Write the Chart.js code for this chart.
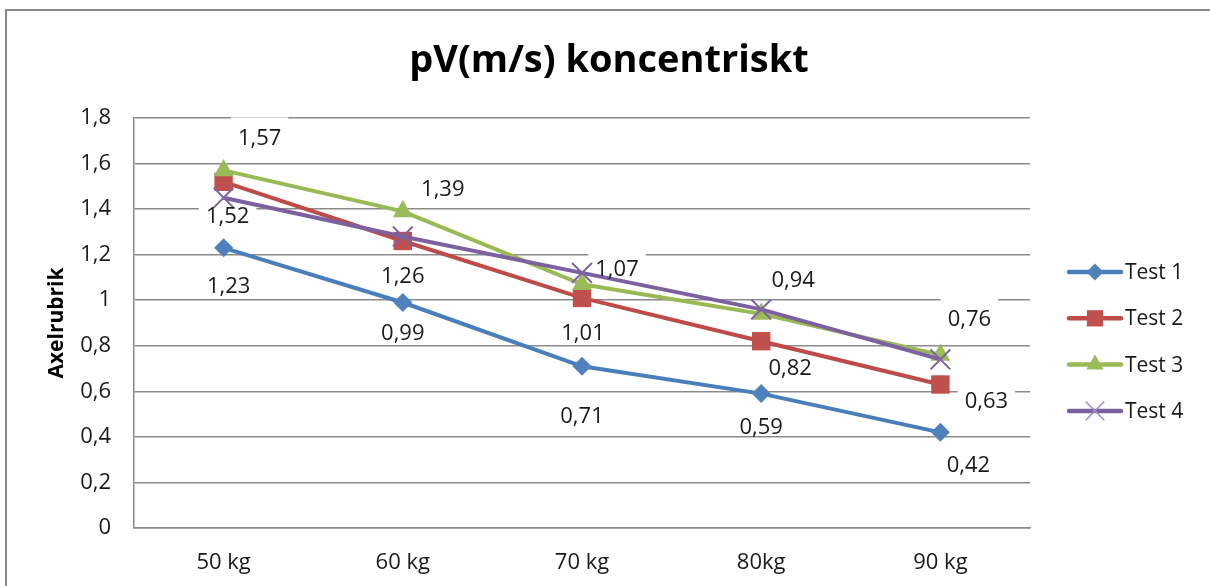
<!DOCTYPE html>
<html><head><meta charset="utf-8">
<script src="https://cdn.jsdelivr.net/npm/chart.js@4.4.1/dist/chart.umd.min.js"></script>
<style>
html,body{margin:0;padding:0;background:#fff;overflow:hidden;width:1210px;height:586px;}
#frame{position:absolute;left:5px;top:9px;width:1400px;height:800px;border:2px solid #8a8a8a;box-sizing:border-box;}
#c{position:absolute;left:0;top:0;}
</style></head><body>
<div id="frame"></div>
<canvas id="c" width="1210" height="586"></canvas>
<script>
const categories = ['50 kg', '60 kg', '70 kg', '80kg', '90 kg'];
const test1 = [1.23, 0.99, 0.71, 0.59, 0.42];
const test2 = [1.52, 1.26, 1.01, 0.82, 0.63];
const test3 = [1.57, 1.39, 1.07, 0.94, 0.76];
const test4 = [1.45, 1.28, 1.12, 0.96, 0.74];
const seriesNames = ['Test 1', 'Test 2', 'Test 3', 'Test 4'];
const yTickLabels = ['0', '0,2', '0,4', '0,6', '0,8', '1', '1,2', '1,4', '1,6', '1,8'];
const titleText = 'pV(m/s) koncentriskt';
const yAxisTitle = 'Axelrubrik';

const FONT = "'Open Sans', 'DejaVu Sans', sans-serif";
const lineColors = ['#4a7ebb', '#be4b48', '#98b954', '#7d60a0'];
const markerColors = ['#4f81bd', '#c0504d', '#9bbb59', '#8064a2'];
const markerStyles = ['rectRot', 'rect', 'triangle', 'crossRot'];
const markerRadius = [9.5, 13, 11.5, 14];
const legendRadius = [8.5, 11.5, 10, 12.5];

function drawMarker(ctx, style, r, x, y, color, lw) {
  ctx.save();
  ctx.fillStyle = color; ctx.strokeStyle = color;
  ctx.beginPath();
  if (style === 'rectRot') {
    ctx.moveTo(x - r, y); ctx.lineTo(x, y - r); ctx.lineTo(x + r, y); ctx.lineTo(x, y + r); ctx.closePath(); ctx.fill();
  } else if (style === 'rect') {
    const s = Math.SQRT1_2 * r; ctx.rect(x - s, y - s, 2 * s, 2 * s); ctx.fill();
  } else if (style === 'triangle') {
    for (let k = 0; k < 3; k++) {
      const a = k * 2 * Math.PI / 3;
      const px = x + Math.sin(a) * r, py = y - Math.cos(a) * r;
      if (k === 0) ctx.moveTo(px, py); else ctx.lineTo(px, py);
    }
    ctx.closePath(); ctx.fill();
  } else if (style === 'crossRot') {
    const o = Math.cos(Math.PI / 4) * r;
    ctx.lineWidth = lw || 2;
    ctx.moveTo(x - o, y - o); ctx.lineTo(x + o, y + o);
    ctx.moveTo(x - o, y + o); ctx.lineTo(x + o, y - o); ctx.stroke();
  }
  ctx.restore();
}

function eachLabel(chart, opts, fn) {
  const ctx = chart.ctx;
  Object.keys(opts.labelOffsets).forEach(k => {
    const di = +k;
    const meta = chart.getDatasetMeta(di);
    const ds = chart.data.datasets[di];
    meta.data.forEach((pt, i) => {
      const off = opts.labelOffsets[k][i];
      const txt = ds.data[i].toFixed(2).replace('.', ',');
      fn(ctx, txt, pt.x + off[0], pt.y + off[1]);
    });
  });
}

const decor = {
  id: 'decor',
  beforeDatasetsDraw(chart, args, opts) {
    chart.ctx.save();
    chart.ctx.font = '22px ' + FONT;
    eachLabel(chart, opts, (ctx, txt, x, y) => {
      const w = ctx.measureText(txt).width + 14;
      ctx.fillStyle = '#ffffff';
      ctx.fillRect(x - w / 2, y - 20, w, 29);
    });
    chart.ctx.restore();
  },
  afterDatasetsDraw(chart, args, opts) {
    chart.ctx.save();
    chart.ctx.font = '22px ' + FONT;
    chart.ctx.textAlign = 'center';
    chart.ctx.textBaseline = 'middle';
    eachLabel(chart, opts, (ctx, txt, x, y) => {
      ctx.fillStyle = '#1a1a1a';
      ctx.fillText(txt, x, y + 1);
    });
    chart.ctx.restore();
  },
  afterDraw(chart) {
    const ctx = chart.ctx;
    ctx.save();
    ctx.fillStyle = '#000';
    ctx.font = 'bold 38px ' + FONT;
    ctx.textAlign = 'center';
    ctx.textBaseline = 'middle';
    ctx.fillText(titleText, 609, 61);
    ctx.save();
    ctx.translate(57, 323);
    ctx.rotate(-Math.PI / 2);
    ctx.font = 'bold 21px ' + FONT;
    ctx.fillText(yAxisTitle, 0, 0);
    ctx.restore();
    ctx.font = '21px ' + FONT;
    ctx.textAlign = 'left';
    seriesNames.forEach((name, i) => {
      const y = 272 + i * 46.3;
      ctx.strokeStyle = lineColors[i];
      ctx.lineWidth = 4.5;
      ctx.lineCap = 'round';
      ctx.beginPath(); ctx.moveTo(1069, y); ctx.lineTo(1121, y); ctx.stroke();
      drawMarker(ctx, markerStyles[i], legendRadius[i], 1095, y, i === 3 ? '#a08cc4' : markerColors[i], 1.5);
      ctx.fillStyle = '#1a1a1a';
      ctx.fillText(name, 1125, y + 1);
    });
    ctx.restore();
  }
};

const seriesData = [test1, test2, test3, test4];
const datasets = seriesData.map((d, i) => ({
  label: seriesNames[i],
  data: d,
  order: 3 - i,
  borderColor: lineColors[i],
  backgroundColor: markerColors[i],
  pointBackgroundColor: markerColors[i],
  pointBorderColor: markerColors[i],
  pointStyle: markerStyles[i],
  pointRadius: markerRadius[i],
  pointBorderWidth: i === 3 ? 2 : 0,
  borderWidth: 4,
  tension: 0,
  fill: false
}));

new Chart(document.getElementById('c'), {
  type: 'line',
  data: { labels: categories, datasets },
  plugins: [decor],
  options: {
    responsive: false,
    animation: false,
    events: [],
    clip: false,
    layout: { padding: { left: 10, top: 118, right: 180, bottom: 10 } },
    plugins: {
      legend: { display: false },
      title: { display: false },
      tooltip: { enabled: false },
      decor: {
        labelOffsets: {
          0: [[5, 38], [0, 30], [0, 49], [0, 33], [28, 32]],
          1: [[4, 34], [0, 35], [1, 35], [29, 27], [46, 16]],
          2: [[36, -33], [40, -23], [35, -16], [32, -34], [29, -36]]
        }
      }
    },
    scales: {
      x: {
        offset: true,
        afterFit: s => { s.height = 48; },
        grid: { display: false, drawTicks: false },
        border: { display: true, color: '#8a8a8a', width: 1.5 },
        ticks: { color: '#1a1a1a', font: { family: FONT, size: 22 }, padding: 22, maxRotation: 0 }
      },
      y: {
        min: 0, max: 1.8,
        afterFit: s => { s.width = 124; },
        grid: { color: '#8a8a8a', lineWidth: 1.5, drawTicks: false },
        border: { display: true, color: '#8a8a8a', width: 1.5 },
        ticks: {
          stepSize: 0.2,
          color: '#1a1a1a',
          font: { family: FONT, size: 22 },
          padding: 23,
          callback: v => yTickLabels[Math.round(v / 0.2)]
        }
      }
    }
  }
});
</script>
</body></html>
